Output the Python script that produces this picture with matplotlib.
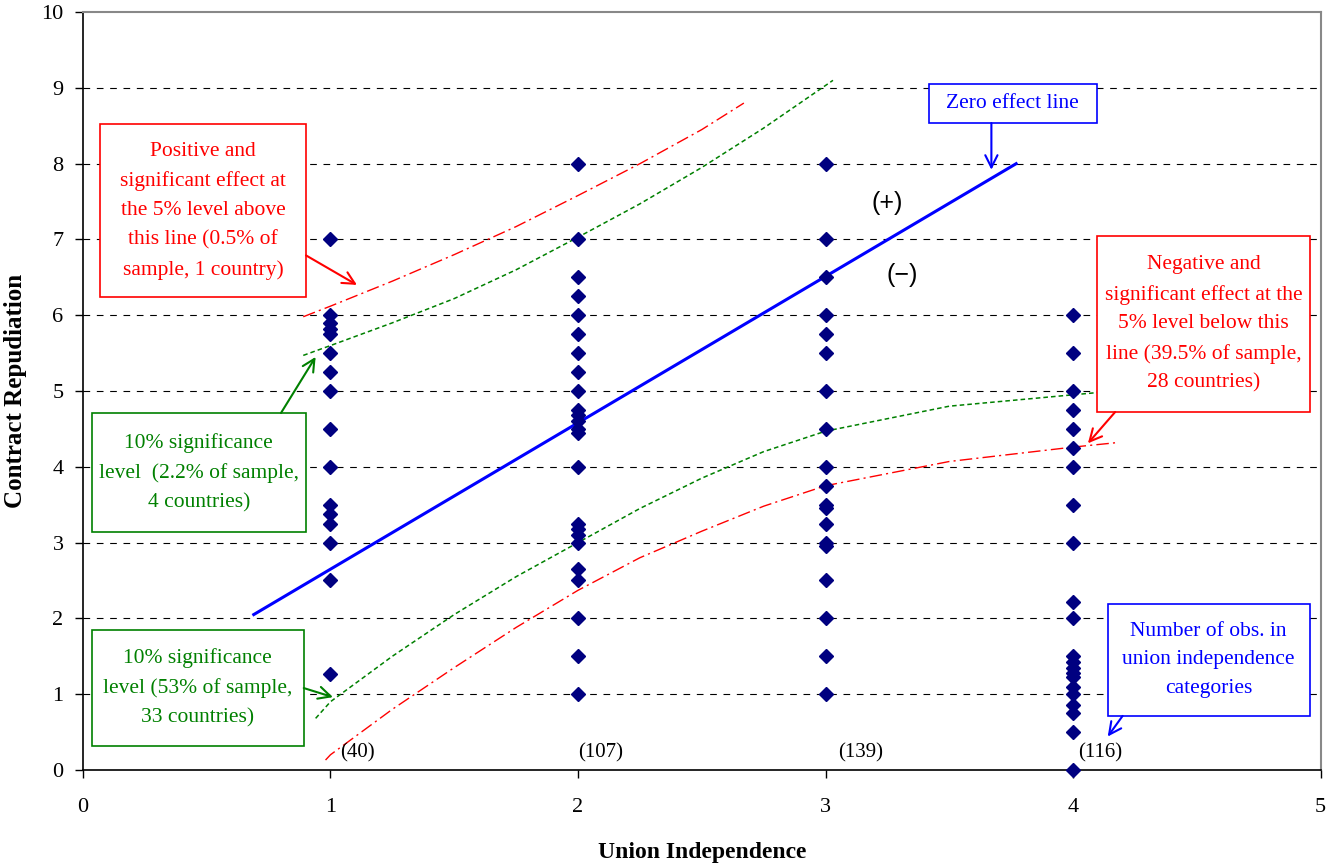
import numpy as np
import matplotlib.pyplot as plt
from matplotlib.patches import Rectangle

plt.rcParams['font.family'] = ['Liberation Serif', 'DejaVu Serif']

# Observed country scores by union independence category
y1 = [7, 6, 5.9, 5.82, 5.75, 5.5, 5.25, 5, 4.5, 4, 3.5, 3.38, 3.25, 3, 2.5, 1.27]
x1 = [1] * len(y1)
y2 = [8, 7, 6.5, 6.25, 6, 5.75, 5.5, 5.25, 5, 4.75, 4.68, 4.6, 4.5, 4.45, 4,
      3.25, 3.18, 3.1, 3, 2.65, 2.5, 2, 1.5, 1]
x2 = [2] * len(y2)
y3 = [8, 7, 6.5, 6, 5.75, 5.5, 5, 4.5, 4, 3.75, 3.5, 3.45, 3.25, 3, 2.95,
      2.5, 2, 1.5, 1]
x3 = [3] * len(y3)
y4 = [6, 5.5, 5, 4.75, 4.5, 4.25, 4, 3.5, 3, 2.22, 2, 1.5, 1.42, 1.35, 1.28,
      1.22, 1.1, 1, 0.86, 0.75, 0.5, 0]
x4 = [4] * len(y4)

# Zero effect line
zero_x = [0.69, 3.77]
zero_y = [2.05, 8.0]

# Significance bands
red_up_x = [0.89, 1.0, 1.25, 1.5, 1.75, 2.0, 2.25, 2.5, 2.67]
red_up_y = [5.98, 6.12, 6.45, 6.8, 7.17, 7.58, 8.0, 8.45, 8.8]
grn_up_x = [0.89, 1.0, 1.25, 1.5, 1.75, 2.0, 2.25, 2.5, 2.75, 3.03]
grn_up_y = [5.47, 5.6, 5.9, 6.22, 6.6, 7.03, 7.47, 7.95, 8.47, 9.1]
grn_lo_x = [0.94, 1.0, 1.25, 1.5, 1.75, 2.0, 2.25, 2.5, 2.75, 3.0, 3.5, 4.0, 4.1]
grn_lo_y = [0.68, 0.9, 1.5, 2.05, 2.55, 3.0, 3.45, 3.85, 4.2, 4.47, 4.8, 4.95, 4.98]
red_lo_x = [0.98, 1.0, 1.25, 1.5, 1.75, 2.0, 2.25, 2.5, 2.75, 3.0, 3.5, 4.0, 4.18]
red_lo_y = [0.13, 0.2, 0.8, 1.35, 1.88, 2.37, 2.8, 3.15, 3.48, 3.75, 4.07, 4.26, 4.32]

counts = ['(40)', '(107)', '(139)', '(116)']
count_x = [1.11, 2.09, 3.14, 4.11]

navy = '#000080'
green = '#008000'

fig = plt.figure(figsize=(13.38, 8.67), dpi=100)
ax = fig.add_axes([0.062, 0.112, 0.925, 0.874])

for y in range(1, 10):
    ax.axhline(y, color='k', lw=0.8, linestyle=(0, (6, 6)), zorder=1)

ax.plot(zero_x, zero_y, color='#0000ff', lw=2.2, zorder=3)
ax.plot(red_up_x, red_up_y, color='red', lw=1, linestyle=(0, (9, 3, 1.5, 3)), zorder=3)
ax.plot(red_lo_x, red_lo_y, color='red', lw=1, linestyle=(0, (9, 3, 1.5, 3)), zorder=3)
ax.plot(grn_up_x, grn_up_y, color=green, lw=1.1, linestyle=(0, (3, 2)), zorder=3)
ax.plot(grn_lo_x, grn_lo_y, color=green, lw=1.1, linestyle=(0, (3, 2)), zorder=3)

for xs, ys in [(x1, y1), (x2, y2), (x3, y3), (x4, y4)]:
    ax.plot(xs, ys, 'D', color=navy, ms=6.8, ls='none', zorder=4, clip_on=False)

for lab, cx in zip(counts, count_x):
    ax.text(cx, 0.23, lab, ha='center', va='center', fontsize=15, zorder=5)

ax.text(3.25, 7.48, '(+)', family='Liberation Sans', fontsize=18, ha='center', va='center')
ax.text(3.31, 6.53, '(\u2212)', family='Liberation Sans', fontsize=18, ha='center', va='center')


def box(x0, y0, w, h, txt, col, lw=1.2):
    ax.add_patch(Rectangle((x0, y0), w, h, facecolor='white', edgecolor=col,
                           lw=lw, zorder=6))
    ax.text(x0 + w / 2, y0 + h / 2, txt, color=col, ha='center', va='center',
            fontsize=15.5, linespacing=1.7, zorder=7)


def arrow(xy, xytext, col):
    ax.annotate('', xy=xy, xytext=xytext, zorder=8,
                arrowprops=dict(arrowstyle='->', color=col, lw=1.5,
                                mutation_scale=22, shrinkA=0, shrinkB=0))


box(0.069, 6.24, 0.832, 2.28,
    'Positive and\nsignificant effect at\nthe 5% level above\nthis line (0.5% of\nsample, 1 country)',
    'red')
arrow((1.107, 6.4), (0.901, 6.79), 'red')

box(0.036, 3.14, 0.864, 1.57,
    '10% significance\nlevel  (2.2% of sample,\n4 countries)', green)
arrow((0.94, 5.45), (0.80, 4.71), green)

box(0.036, 0.317, 0.856, 1.53,
    '10% significance\nlevel (53% of sample,\n33 countries)', green)
arrow((1.01, 0.96), (0.892, 1.08), green)

box(3.417, 8.536, 0.679, 0.515, 'Zero effect line', '#0000ff')
arrow((3.67, 7.92), (3.67, 8.536), '#0000ff')

box(4.095, 4.723, 0.864, 2.32,
    'Negative and\nsignificant effect at the\n5% level below this\nline (39.5% of sample,\n28 countries)',
    'red')
arrow((4.06, 4.31), (4.17, 4.723), 'red')

box(4.14, 0.712, 0.816, 1.478,
    'Number of obs. in\nunion independence\ncategories', '#0000ff')
arrow((4.14, 0.44), (4.2, 0.712), '#0000ff')

ax.set_xlim(0, 5)
ax.set_ylim(0, 10)
ax.set_xticks(range(0, 6))
ax.set_yticks(range(0, 11))
ax.tick_params(direction='out', length=6, width=1, labelsize=16)
ax.tick_params(axis='x', pad=14)
ax.tick_params(axis='y', pad=8)
for s in ['top', 'right']:
    ax.spines[s].set_color('#888888')
    ax.spines[s].set_linewidth(1.5)
for s in ['left', 'bottom']:
    ax.spines[s].set_linewidth(1.2)

ax.set_xlabel('Union Independence', fontsize=17, fontweight='bold', labelpad=18)
ax.set_ylabel('Contract Repudiation', fontsize=18, fontweight='bold', labelpad=10)

plt.savefig('out.png', dpi=100)
